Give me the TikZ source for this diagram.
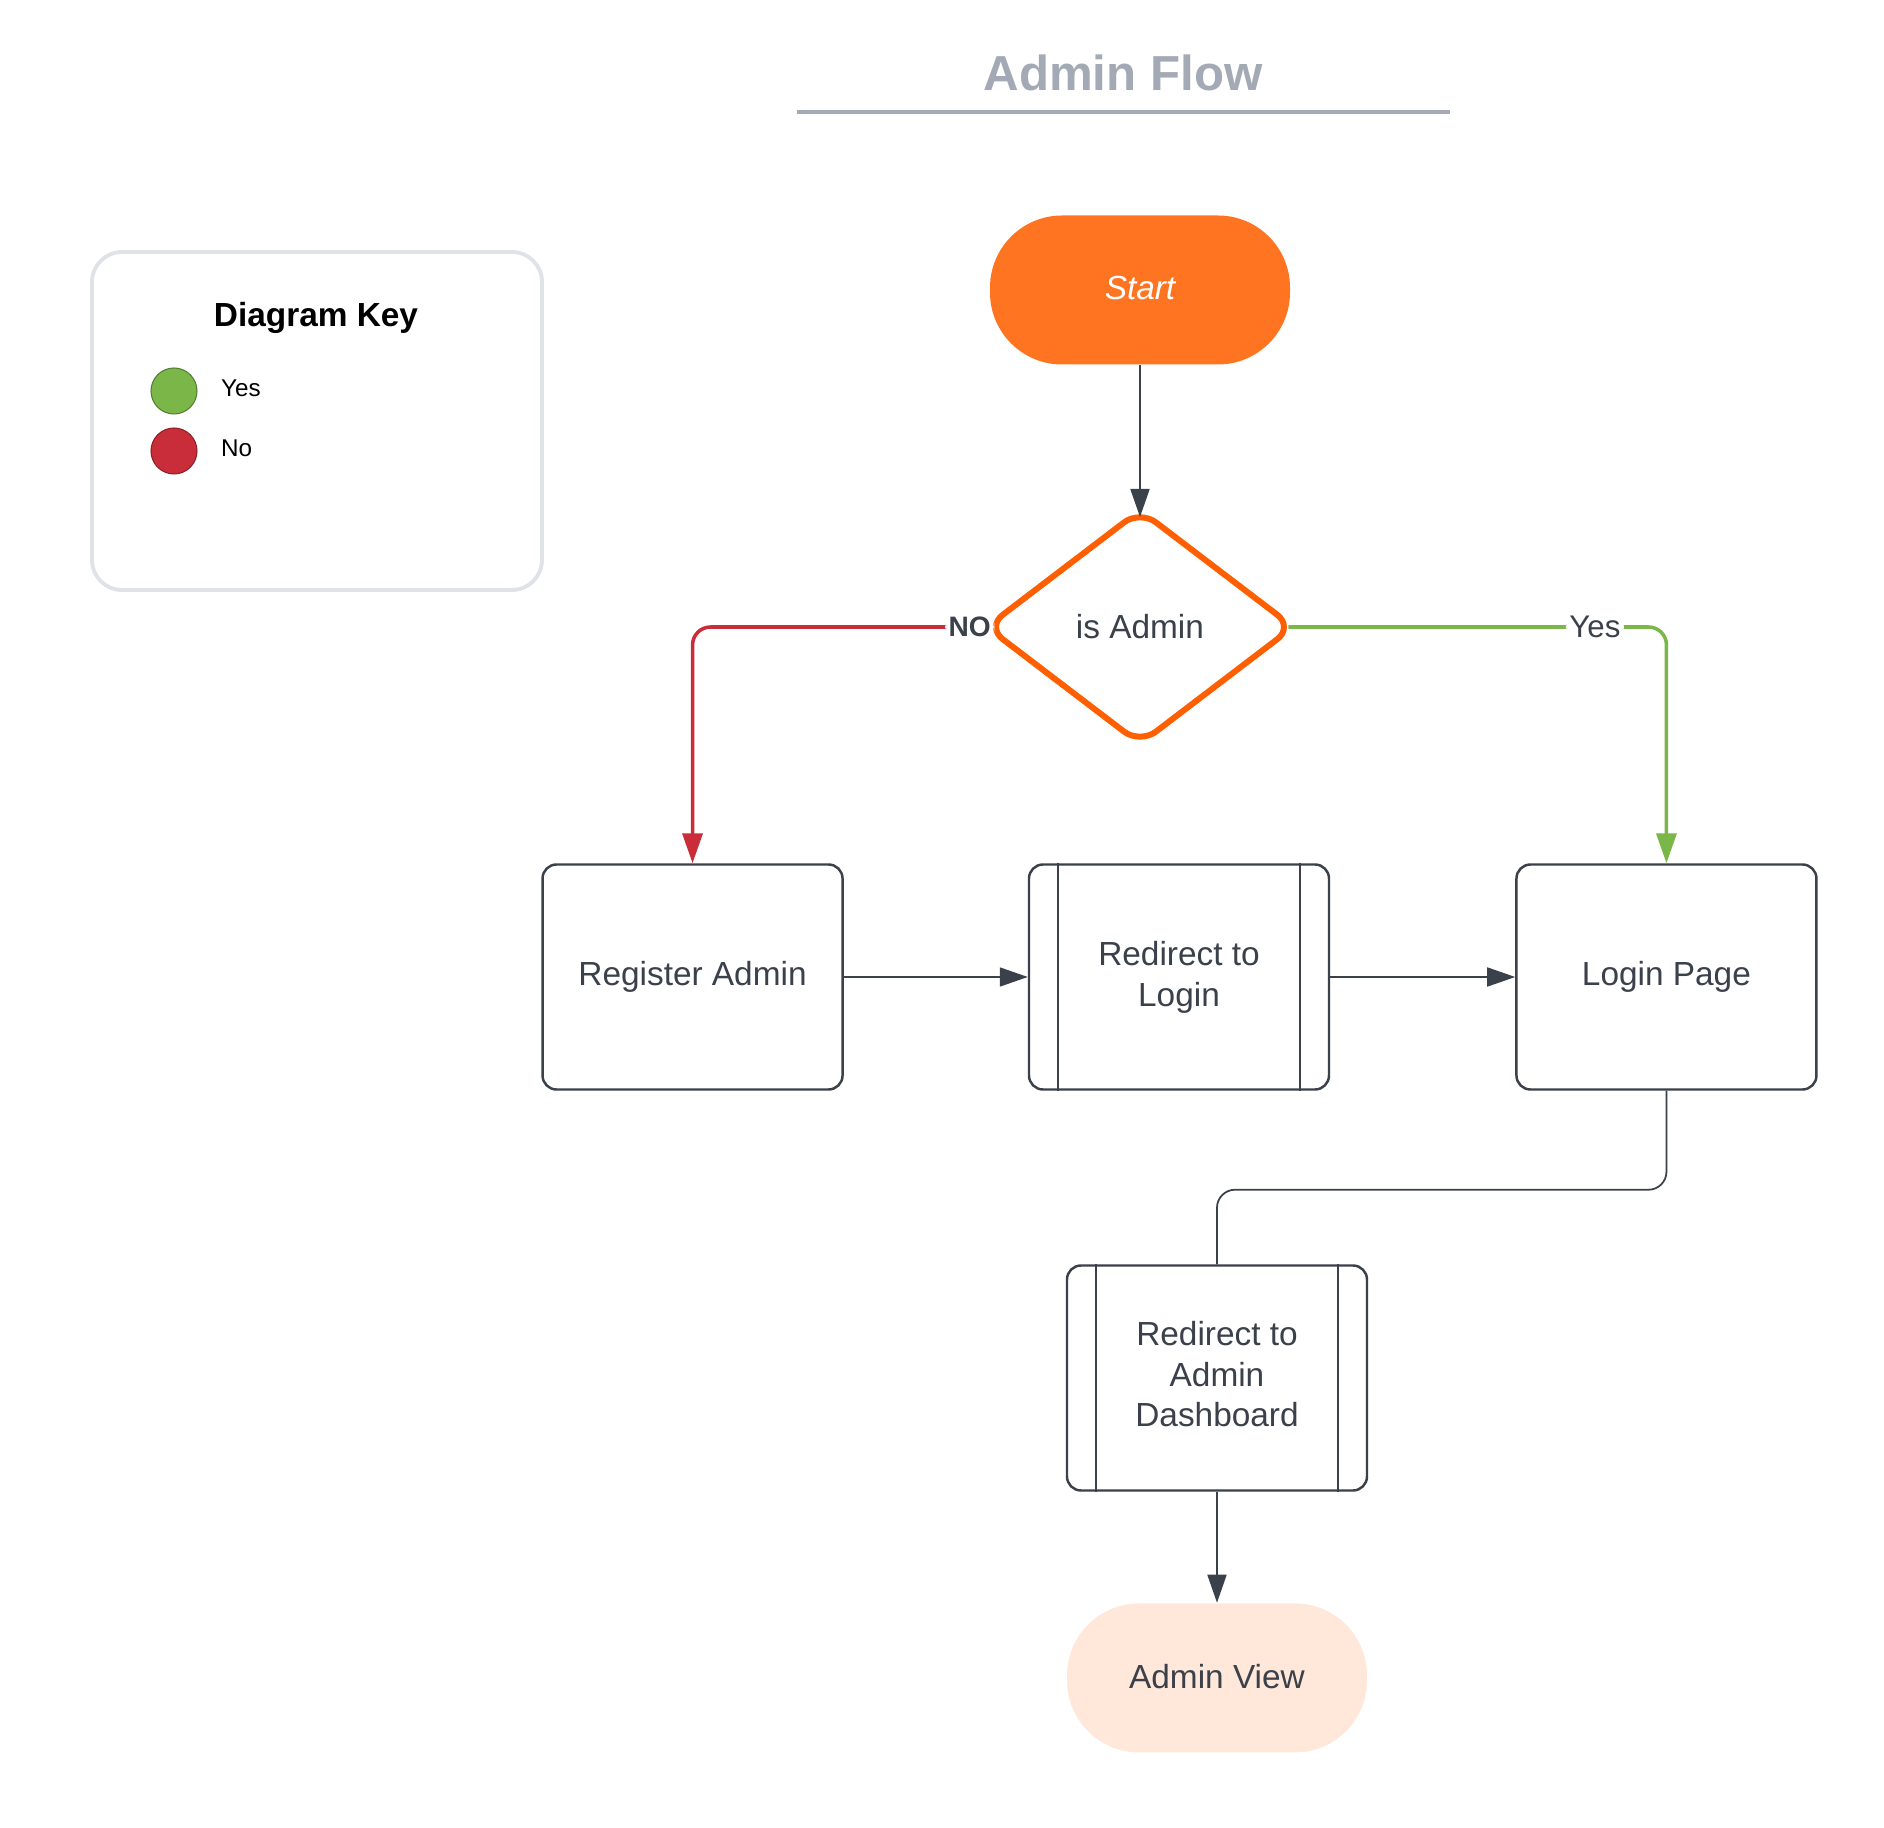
\documentclass[tikz,border=0pt]{standalone}
\usepackage{fontspec}
\setmainfont{Liberation Sans}
\usetikzlibrary{shapes.geometric, arrows.meta, positioning, calc}
\definecolor{inkgray}{HTML}{3A414A}
\definecolor{titlegray}{HTML}{A3AAB5}
\definecolor{keyborder}{HTML}{DFE3E8}
\definecolor{startorange}{HTML}{FF7420}
\definecolor{diamondorange}{HTML}{FF5F00}
\definecolor{yesgreen}{HTML}{7AB648}
\definecolor{nored}{HTML}{C92D39}
\definecolor{viewpeach}{HTML}{FFE8D9}
\tikzset{
  process/.style={rectangle, rounded corners=0.14cm, draw=inkgray, line width=0.7pt,
                  fill=white, text=inkgray, minimum width=3cm, minimum height=2.25cm,
                  align=center, font=\fontsize{9.5}{11.6}\selectfont},
  subprocess/.style={process},
  terminal/.style={rectangle, rounded corners=0.72cm, minimum width=3cm,
                   minimum height=1.49cm, align=center, font=\fontsize{9.5}{11.6}\selectfont},
  decision/.style={diamond, rounded corners=0.2cm, draw=diamondorange, line width=1.7pt,
                   fill=white, text=inkgray, minimum width=3.09cm, minimum height=2.36cm,
                   inner sep=0pt, font=\fontsize{9.5}{11.6}\selectfont},
  arrow/.style={-{Triangle[length=0.28cm, width=0.19cm]}, line width=0.5pt, draw=inkgray},
  link/.style={line width=0.5pt, draw=inkgray, rounded corners=0.18cm},
  nobranch/.style={-{Triangle[length=0.3cm, width=0.2cm]}, line width=1pt, draw=nored,
                   rounded corners=0.18cm, shorten <=-0.09cm},
  yesbranch/.style={-{Triangle[length=0.3cm, width=0.2cm]}, line width=1pt, draw=yesgreen,
                    rounded corners=0.18cm, shorten <=-0.09cm},
  keydot/.style={circle, minimum size=0.46cm, inner sep=0pt, line width=0.3pt},
  keytext/.style={inner sep=0pt, font=\fontsize{6.9}{8}\selectfont},
}

\begin{document}
\begin{tikzpicture}
  \useasboundingbox (0,0) rectangle (18.84,-18.28);

  % title
  \node[text=titlegray, font=\fontsize{14}{16}\selectfont\bfseries, inner sep=0pt]
    (title) at (11.23,-0.73) {Admin Flow};
  \draw[titlegray, line width=0.9pt] (7.97,-1.12) -- (14.50,-1.12);

  % diagram key
  \node[draw=keyborder, line width=1.1pt, rounded corners=0.3cm, minimum width=4.5cm,
        minimum height=3.38cm] (key) at (3.17,-4.21) {};
  \node[anchor=base, inner sep=0pt, font=\fontsize{9.5}{11}\selectfont\bfseries]
    (keytitle) at (3.16,-3.27) {Diagram Key};
  \node[keydot, fill=yesgreen, draw=yesgreen!70!black] (keyyes) at (1.74,-3.91) {};
  \node[keydot, fill=nored, draw=nored!70!black] (keyno) at (1.74,-4.51) {};
  \node[keytext, right=0.23cm of keyyes, yshift=0.03cm] (keyyeslabel) {Yes};
  \node[keytext, right=0.23cm of keyno, yshift=0.03cm] (keynolabel) {No};

  % flow
  \node[terminal, fill=startorange, text=white, font=\fontsize{9.5}{11.6}\selectfont\itshape]
    (start) at (11.40,-2.90) {\raisebox{0.05cm}{Start}};
  \node[decision] (admin) at (11.40,-6.27) {is Admin};
  \node[subprocess] (relogin) at (11.79,-9.77) {Redirect to\\Login};
  \node[process, left=1.84cm of relogin] (register) {Register Admin};
  \node[process, right=1.85cm of relogin] (login) {Login Page};
  \node[subprocess] (redash) at (12.17,-13.78) {\raisebox{0.03cm}{\begin{tabular}{@{}c@{}}Redirect to\\Admin\\Dashboard\end{tabular}}};
  \node[terminal, fill=viewpeach, text=inkgray, below=1.11cm of redash] (view) {\raisebox{0.03cm}{Admin View}};

  % side bars of the sub-process boxes
  \foreach \n in {relogin, redash} {
    \draw[inkgray, line width=0.6pt] ([xshift=0.3cm]\n.north west) -- ([xshift=0.3cm]\n.south west);
    \draw[inkgray, line width=0.6pt] ([xshift=-0.3cm]\n.north east) -- ([xshift=-0.3cm]\n.south east);
  }

  \draw[arrow, shorten >=-0.11cm] (start) -- (admin);
  \draw[nobranch] (admin.west) -| (register.north)
    node[pos=0.022, fill=white, inner sep=1pt, text=inkgray,
         font=\fontsize{8}{9}\selectfont\bfseries] {NO};
  \draw[yesbranch] (admin.east) -| (login.north)
    node[pos=0.403, fill=white, inner sep=1pt, text=inkgray,
         font=\fontsize{8.9}{10}\selectfont] {Yes};
  \draw[arrow] (register) -- (relogin);
  \draw[arrow] (relogin) -- (login);
  \draw[link] (login.south) -- ++(0,-0.99) -| (redash.north);
  \draw[arrow] (redash) -- (view);
\end{tikzpicture}
\end{document}
